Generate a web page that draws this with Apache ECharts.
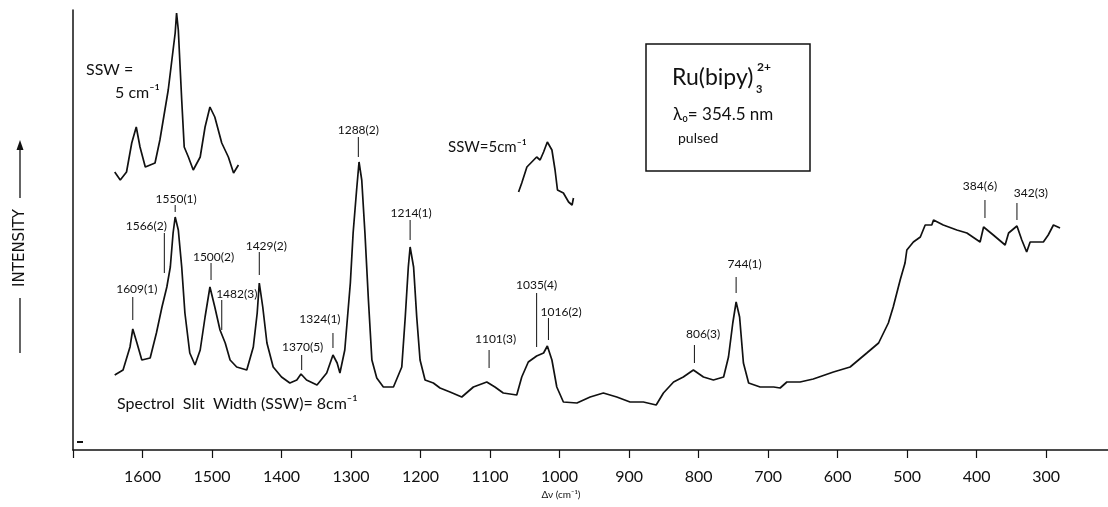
<!DOCTYPE html>
<html><head><meta charset="utf-8">
<script src="https://cdn.jsdelivr.net/npm/echarts@6/dist/echarts.min.js"></script>
<style>html,body{margin:0;padding:0;background:#fff}#c{width:1108px;height:507px}</style>
</head><body><div id="c"></div>
<script>
// Main spectrum (Raman shift, cm^-1  vs  relative intensity, arbitrary units)
const mainShift = [1640,1628,1618,1614,1608,1601,1589,1580,1572,1565,1560,1556,1553,1548.5,1543.6,1539,1532,1524.5,1517,1510,1503,1496,1488.5,1481,1474,1464.5,1450,1440.6,1435,1432,1427,1421,1412,1400,1388,1378,1372,1364,1349,1335,1326,1320,1316,1309,1301,1297,1292,1288.5,1284.6,1280,1275,1270,1263,1253.5,1239,1227,1222,1217.6,1215,1210,1205.5,1200.7,1193.5,1181.6,1172,1157.6,1140.7,1124,1104.7,1093,1081,1061.6,1054.4,1045,1033,1023,1017.6,1011,1004,994.5,975,956,937,917.7,898.6,879.4,861,850.6,836,822,807.5,793,778.7,764,757,750.8,746,741,735.5,728,711.5,692,682.7,673,654,635,606,582,558,541,527,520,510,503,500.4,491,481,474,464.5,462,448,428.5,414,395,390,376,359,354,342,335,328,323,304,297,289.5,280];
const mainIntensity = [75,80,103,121,107,90,92,117,143,163,183,217,233,220,183,137,97,85,100,133,163,143,120,107,90,83,80,103,137,167,143,107,83,73,67,70,76,70,65,77,95,87,77,100,167,217,260,288,270,217,150,90,72,63,63,83,133,183,203,183,133,90,70,67,62,58,53,63,68,63,57,55,73,88,94,97,104,90,63,48,47,53,57,53,48,48,45,57,68,73,80,73,70,73,93,127,148,133,87,67,63,63,62,68,68,71,78,83,97,107,127,143,170,187,200,208,213,225,225,230,225,220,217,208,223,215,205,217,224,210,198,208,208,215,225,222];
// Inset 1: 1640-1460 region, SSW = 5 cm^-1
const inset1Shift = [1640,1632,1623,1615.5,1609,1603.6,1596,1582,1575,1569,1563,1556,1553,1551,1548.5,1543.6,1540,1534,1527,1517,1510,1503,1496,1486,1476.5,1469,1462];
const inset1Intensity = [278,270,278,307,323,303,283,287,310,335,360,400,417,437,420,350,303,293,280,293,323,343,333,307,293,277,285];
// Inset 2: 1060-980 region, SSW = 5 cm^-1
const inset2Shift = [1059,1054.4,1047,1040,1033,1028,1023,1017.6,1011,1006.5,1003,994.5,987,982,980];
const inset2Intensity = [258,267,283,288,293,290,298,308,300,280,260,257,248,245,252];
// Peak annotations
const peakLabels = ['1609(1)','1566(2)','1550(1)','1500(2)','1482(3)','1429(2)','1370(5)','1324(1)','1288(2)','1214(1)','1101(3)','1035(4)','1016(2)','806(3)','744(1)','384(6)','342(3)'];
const peakShift  = [1614,1568.6,1553,1501.4,1486,1432,1371,1326,1289.5,1215,1101.4,1033,1016,806,746,388,342];
const peakLineLow  = [130,177,238,170,120,175,80,102,293,210,82,103,110,87,157,232,230];
const peakLineHigh = [153,217,245,187,150,198,95,117,313,230,100,157,132,105,173,250,247];
// x-axis: range and tick labels
const xMin = 211, xMax = 1700;
const xTickLabels = [1600,1500,1400,1300,1200,1100,1000,900,800,700,600,500,400,300];

// label placement (style): offset of text centre from line top, px
const labelDx = [4,-18,1,2.5,15,7,1,-13,0,1,6.5,0,12.7,8.7,8.5,-5,14];
const labelDy = [-8,-7,-6,-6,-6,-6,-8,-14,-7,-7,-11,-8,-6.3,-11,-12.7,-14,-10];

const zip = (a, b) => a.map((v, i) => [v, b[i]]);
const FONT = 'Lato, "DejaVu Sans", sans-serif';
const INK = '#111';

const chart = echarts.init(document.getElementById('c'), null, {renderer: 'canvas'});
const lineSeries = (name, xs, ys) => ({
  name, type: 'line', data: zip(xs, ys), showSymbol: false, symbol: 'none',
  lineStyle: {color: INK, width: 1.7}, silent: true, animation: false, z: 3
});

chart.setOption({
  animation: false,
  backgroundColor: '#fff',
  grid: {left: 73, right: 0, top: 10, bottom: 57},
  xAxis: {
    type: 'value', inverse: true, min: xMin, max: xMax,
    name: 'Δν (cm⁻¹)', nameLocation: 'middle', nameGap: 36,
    nameTextStyle: {fontFamily: FONT, fontSize: 10, color: INK, padding: [0, 59, 0, 0]},
    axisLine: {show: true, lineStyle: {color: INK, width: 1.5}},
    axisTick: {show: true, length: 8, inside: false, customValues: [xMax].concat(xTickLabels),
      lineStyle: {color: INK, width: 1.2}},
    axisLabel: {show: true, customValues: xTickLabels, margin: 19,
      formatter: v => String(v),
      fontFamily: FONT, fontSize: 16, color: INK},
    splitLine: {show: false}
  },
  yAxis: {
    type: 'value', min: 0, max: 440,
    axisLine: {show: true, lineStyle: {color: INK, width: 1.5}},
    axisTick: {show: false}, axisLabel: {show: false}, splitLine: {show: false}
  },
  series: [
    lineSeries('main', mainShift, mainIntensity),
    lineSeries('inset1', inset1Shift, inset1Intensity),
    lineSeries('inset2', inset2Shift, inset2Intensity),
    {
      name: 'peaks', type: 'custom', silent: true, animation: false, z: 4,
      data: peakShift.map((s, i) => [s, peakLineLow[i], peakLineHigh[i], i]),
      renderItem: (params, api) => {
        const i = api.value(3);
        const p1 = api.coord([api.value(0), api.value(1)]);
        const p2 = api.coord([api.value(0), api.value(2)]);
        return {type: 'group', children: [
          {type: 'line', shape: {x1: p1[0], y1: p1[1], x2: p2[0], y2: p2[1]},
           style: {stroke: INK, lineWidth: 1}},
          {type: 'text', x: p2[0] + labelDx[i], y: p2[1] + labelDy[i],
           style: {text: peakLabels[i], font: '12px ' + FONT, fill: INK,
                   align: 'center', verticalAlign: 'middle'}}
        ]};
      }
    }
  ],
  graphic: [
    // INTENSITY arrow
    {type: 'text', x: 20, y: 248, rotation: Math.PI / 2,
     style: {text: 'INTENSITY', font: '15px "DejaVu Sans", sans-serif', fill: INK, align: 'center', verticalAlign: 'middle'}},
    {type: 'line', shape: {x1: 20, y1: 146, x2: 20, y2: 198}, style: {stroke: INK, lineWidth: 1.3}},
    {type: 'line', shape: {x1: 20, y1: 298, x2: 20, y2: 353}, style: {stroke: INK, lineWidth: 1.3}},
    {type: 'polygon', shape: {points: [[20, 140], [16.5, 150], [23.5, 150]]}, style: {fill: INK}},
    // small mark
    {type: 'rect', shape: {x: 77, y: 441, width: 6, height: 2}, style: {fill: INK}},
    // inset annotations
    {type: 'text', x: 86, y: 70, style: {text: 'SSW =', font: '16px ' + FONT, fill: INK, verticalAlign: 'middle'}},
    {type: 'text', x: 115, y: 93, style: {text: '5 cm⁻¹', font: '16px ' + FONT, fill: INK, verticalAlign: 'middle'}},
    {type: 'text', x: 448, y: 147, style: {text: 'SSW=5cm⁻¹', font: '15px ' + FONT, fill: INK, verticalAlign: 'middle'}},
    {type: 'text', x: 117, y: 404, style: {text: 'Spectrol  Slit  Width (SSW)= 8cm⁻¹', font: '16px ' + FONT, fill: INK, verticalAlign: 'middle'}},
    // legend box
    {type: 'rect', shape: {x: 646, y: 44, width: 164, height: 127}, style: {fill: 'none', stroke: INK, lineWidth: 1.5}},
    {type: 'text', x: 672, y: 78, style: {text: 'Ru(bipy)', font: '23px ' + FONT, fill: INK, verticalAlign: 'middle'}},
    {type: 'text', x: 756, y: 89, style: {text: '3', font: 'bold 11px ' + FONT, fill: INK, verticalAlign: 'middle'}},
    {type: 'text', x: 757, y: 67, style: {text: '2+', font: 'bold 12px ' + FONT, fill: INK, verticalAlign: 'middle'}},
    {type: 'text', x: 673, y: 115, style: {text: 'λ₀= 354.5 nm', font: '17px ' + FONT, fill: INK, verticalAlign: 'middle'}},
    {type: 'text', x: 678, y: 138, style: {text: 'pulsed', font: '14px ' + FONT, fill: INK, verticalAlign: 'middle'}}
  ]
});
</script>
</body></html>
